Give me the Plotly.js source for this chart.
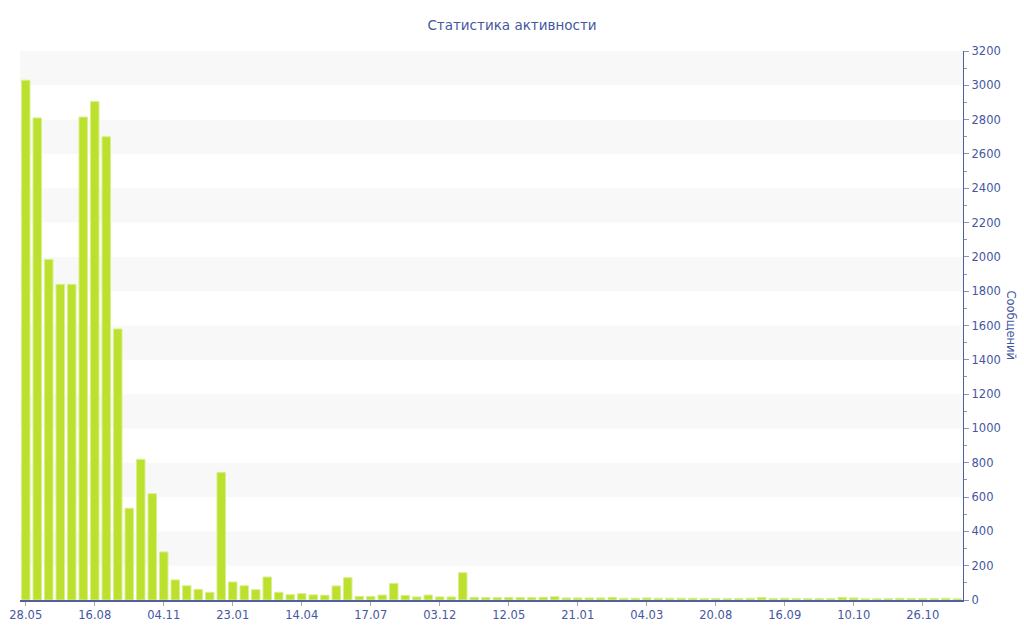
<!DOCTYPE html>
<html>
<head>
<meta charset="utf-8">
<script src="https://cdn.plot.ly/plotly-3.0.1.min.js"></script>
<style>html,body{margin:0;padding:0;background:#fff;}#chart{width:1024px;height:640px;}</style>
</head>
<body>
<div id="chart"></div>
<script>
const titleText = "Статистика активности";
const yAxisTitle = "Сообщений";
const tickLabels = ["28.05","16.08","04.11","23.01","14.04","17.07","03.12","12.05","21.01","04.03","20.08","16.09","10.10","26.10"];
const messages = [
  3030, 2810, 1985, 1840, 1840, 2815, 2905, 2700, 1580, 535,
  820, 620, 280, 117, 83, 62, 45, 744, 105, 83,
  60, 134, 45, 31, 37, 30, 28, 82, 130, 21,
  21, 29, 97, 27, 18, 29, 18, 18, 159, 16,
  15, 14, 15, 14, 14, 16, 19, 12, 12, 12,
  12, 15, 10, 10, 12, 10, 10, 10, 10, 8,
  8, 8, 8, 10, 14, 8, 10, 8, 8, 8,
  8, 15, 12, 7, 7, 8, 10, 8, 8, 8,
  10, 7
];
const labelEvery = 6;
const yMax = 3200;
const bandStep = 200;

const xIdx = messages.map((_, i) => i);
const tickvals = tickLabels.map((_, i) => i * labelEvery);

const textColor = "#45579f";
const fontFamily = "DejaVu Sans, Verdana, sans-serif";

// alternating background bands
const shapes = [];
for (let y0 = bandStep; y0 < yMax; y0 += 2 * bandStep) {
  shapes.push({type: "rect", xref: "paper", yref: "y", x0: 0, x1: 1, y0: y0, y1: y0 + bandStep,
    fillcolor: "#f8f8f8", line: {width: 0}, layer: "below"});
}

const trace = {
  type: "bar",
  x: xIdx,
  y: messages,
  marker: {color: "#bce02e", line: {color: "#d9ef8c", width: 1}},
  hoverinfo: "y"
};

const layout = {
  width: 1024, height: 640,
  margin: {l: 20, r: 61, t: 51, b: 40},
  paper_bgcolor: "#ffffff",
  plot_bgcolor: "#ffffff",
  font: {family: fontFamily, color: textColor, size: 11.5},
  title: {text: titleText, font: {family: fontFamily, size: 13.5, color: textColor}, x: 0.5, xanchor: "center", y: 0.961, yanchor: "middle"},
  bargap: 0.26,
  showlegend: false,
  shapes: shapes,
  xaxis: {
    range: [-0.5, messages.length - 0.5],
    tickmode: "array", tickvals: tickvals, ticktext: tickLabels,
    ticks: "outside", ticklen: 4, tickcolor: "#aaaaaa",
    showgrid: false, zeroline: false,
    showline: true, linecolor: "#4f609f", linewidth: 1.5,
    tickfont: {size: 11.5, color: textColor}
  },
  yaxis: {
    side: "right",
    range: [0, yMax], dtick: bandStep, tick0: 0,
    ticks: "outside", ticklen: 5, tickcolor: "#8a93b8",
    minor: {dtick: 100, ticks: "outside", ticklen: 3, tickcolor: "#8a93b8", showgrid: false},
    showgrid: false, zeroline: false,
    showline: true, linecolor: "#4f609f", linewidth: 1.2,
    tickfont: {size: 11.5, color: textColor}
  },
  annotations: [{
    text: yAxisTitle, textangle: 90, showarrow: false,
    xref: "paper", yref: "paper", x: 1, xshift: 48, y: 0.5,
    xanchor: "center", yanchor: "middle",
    font: {family: fontFamily, size: 11.5, color: textColor}
  }]
};

Plotly.newPlot("chart", [trace], layout, {displayModeBar: false, staticPlot: true});
</script>
</body>
</html>
